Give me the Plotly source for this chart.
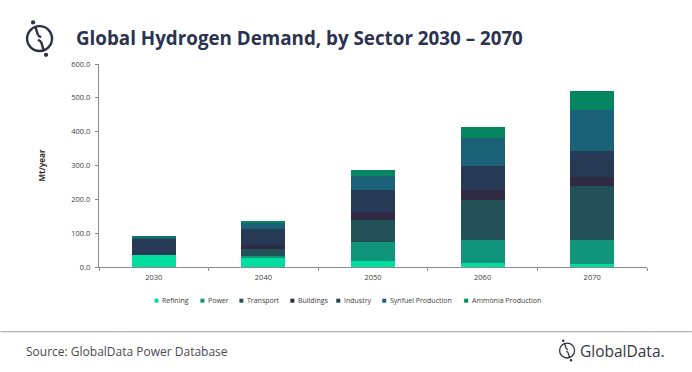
import plotly.graph_objects as go

years = ["2030", "2040", "2050", "2060", "2070"]
refining = [36, 29, 18, 13, 10]
power = [0, 3, 55, 68, 71]
transport = [0, 20, 65, 118, 158]
buildings = [0, 13, 26, 28, 28]
industry = [49, 48, 64, 72, 76]
synfuel = [5, 19, 41, 82, 122]
ammonia = [1, 5, 17, 34, 54]

series = [
    ("Refining", refining, "#00DFA0"),
    ("Power", power, "#10957A"),
    ("Transport", transport, "#225257"),
    ("Buildings", buildings, "#302A45"),
    ("Industry", industry, "#273A55"),
    ("Synfuel Production", synfuel, "#1B6178"),
    ("Ammonia Production", ammonia, "#068660"),
]

fig = go.Figure()
for name, vals, col in series:
    fig.add_bar(x=years, y=vals, name=name, showlegend=False,
                marker=dict(color=col, line=dict(width=0)))

FONT = "Open Sans, Noto Sans, sans-serif"
W, H = 692, 372
L, R, T, B = 98.5, 647, 63.5, 267.2
def px(x): return (x - L) / (R - L)
def py(y): return (B - y) / (B - T)

def box(x0, y0, x1, y1, **kw):
    return dict(xref="paper", yref="paper", x0=px(x0), x1=px(x1), y0=py(y1), y1=py(y0), **kw)

shapes = [
    dict(type="line", xref="paper", yref="paper", x0=px(0), x1=px(W), y0=py(332), y1=py(332),
         line=dict(color="#B4B4B4", width=1.2)),
]
def logo(cx, cy, r, lw):
    col = "#2B3045"
    s = [box(cx - r, cy - r, cx + r, cy + r, type="circle", line=dict(color=col, width=lw))]
    d = r * 0.17
    for dx, dy in ((-0.52, -1.3), (0.52, 1.3)):
        x, y = cx + dx * r, cy + dy * r
        s.append(box(x - d, y - d, x + d, y + d, type="circle", fillcolor=col, line=dict(width=0)))
    pts = [(-0.35, -1.0), (-0.12, -0.25), (0.12, -0.1), (-0.12, 0.1), (0.12, 0.25), (0.35, 1.0)]
    for (a, b), (c, e) in [(pts[0], pts[1]), (pts[1], pts[2]), (pts[3], pts[4]), (pts[4], pts[5])]:
        s.append(dict(type="line", xref="paper", yref="paper",
                      x0=px(cx + a * r), y0=py(cy + b * r), x1=px(cx + c * r), y1=py(cy + e * r),
                      line=dict(color=col, width=lw)))
    return s
shapes += logo(39, 38, 12.5, 2.4) + logo(567, 351, 7.5, 1.3)

ann = [
    dict(text="<b>Global Hydrogen Demand, by Sector 2030 – 2070</b>", x=px(73), y=py(37),
         font=dict(size=18.8, color="#2B3350", family=FONT)),
    dict(text="Source: GlobalData Power Database", x=px(23), y=py(352),
         font=dict(size=12, color="#4A4A50", family=FONT)),
    dict(text="GlobalData.", x=px(578), y=py(351),
         font=dict(size=15.5, color="#33363F", family=FONT)),
]
legend_x = [156, 202, 241, 292, 338, 384, 466]
for (name, _, col), lx in zip(series, legend_x):
    shapes.append(box(lx - 2, 299, lx + 2, 303, type="rect", fillcolor=col, line=dict(width=0)))
    ann.append(dict(text=name, x=px(lx + 3.5), y=py(301), font=dict(size=7, color="#404040", family=FONT)))
for a in ann:
    a.update(xref="paper", yref="paper", xanchor="left", yanchor="middle", showarrow=False)

fig.update_layout(
    width=W, height=H, barmode="stack", bargap=0.6, showlegend=False,
    margin=dict(l=L, r=W - R, t=T, b=H - B, autoexpand=False),
    paper_bgcolor="white", plot_bgcolor="white",
    font=dict(family=FONT, size=7.5, color="#404040"),
    shapes=shapes, annotations=ann,
    xaxis=dict(type="category", tickson="boundaries", ticks="outside", ticklen=3, tickwidth=1,
               tickcolor="#8C8C8C", linecolor="#8C8C8C", linewidth=1.2, showgrid=False,
               showline=True, tickfont=dict(size=7.5), ticklabelstandoff=3),
    yaxis=dict(range=[0, 600], tickvals=[0, 100, 200, 300, 400, 500, 600],
               ticktext=["0.0", "100.0", "200.0", "300.0", "400.0", "500.0", "600.0"],
               ticks="outside", ticklen=3, tickwidth=1, tickcolor="#8C8C8C",
               linecolor="#8C8C8C", linewidth=1.2, showgrid=False, showline=True, zeroline=False,
               tickfont=dict(size=7.5), ticklabelstandoff=3,
               title=dict(text="<b>Mt/year</b>", font=dict(size=8, color="#303030"), standoff=24)),
)
fig.write_html("out.html", config=dict(displayModeBar=False),
               post_script="document.body.style.margin='0';document.body.style.overflow='hidden';")
